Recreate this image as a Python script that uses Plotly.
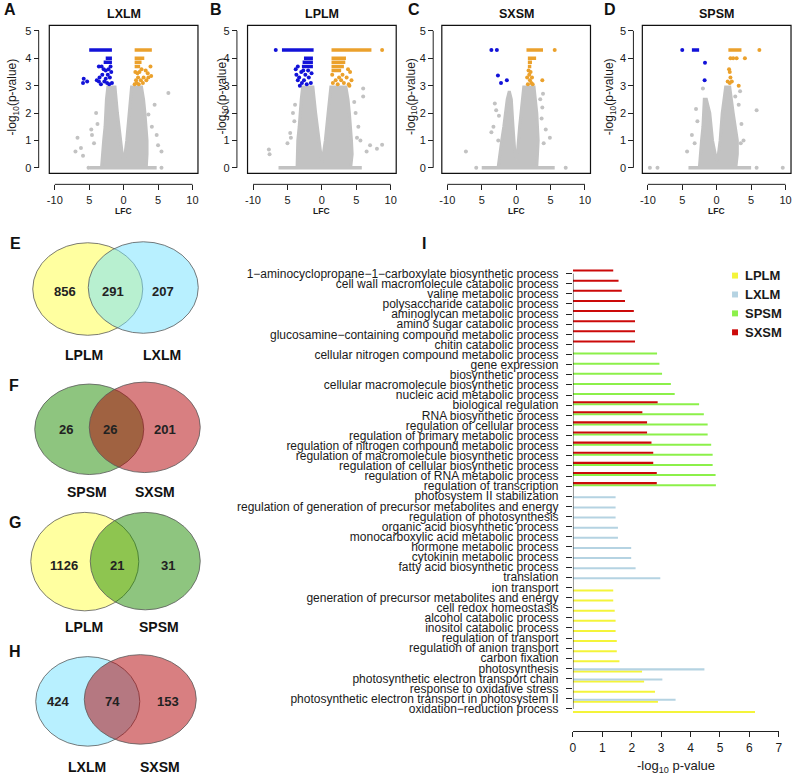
import plotly.graph_objects as go

W, H = 797, 778
def px(x): return x / W
def py(y): return 1 - y / H

N = None
FONT = "Liberation Sans, Arial, sans-serif"

# ---------------- Panel I: GO term enrichment ----------------
terms = [
    "1−aminocyclopropane−1−carboxylate biosynthetic process",
    "cell wall macromolecule catabolic process",
    "valine metabolic process",
    "polysaccharide catabolic process",
    "aminoglycan metabolic process",
    "amino sugar catabolic process",
    "glucosamine−containing compound metabolic process",
    "chitin catabolic process",
    "cellular nitrogen compound metabolic process",
    "gene expression",
    "biosynthetic process",
    "cellular macromolecule biosynthetic process",
    "nucleic acid metabolic process",
    "biological regulation",
    "RNA biosynthetic process",
    "regulation of cellular process",
    "regulation of primary metabolic process",
    "regulation of nitrogen compound metabolic process",
    "regulation of macromolecule biosynthetic process",
    "regulation of cellular biosynthetic process",
    "regulation of RNA metabolic process",
    "regulation of transcription",
    "photosystem II stabilization",
    "regulation of generation of precursor metabolites and energy",
    "regulation of photosynthesis",
    "organic acid biosynthetic process",
    "monocarboxylic acid metabolic process",
    "hormone metabolic process",
    "cytokinin metabolic process",
    "fatty acid biosynthetic process",
    "translation",
    "ion transport",
    "generation of precursor metabolites and energy",
    "cell redox homeostasis",
    "alcohol catabolic process",
    "inositol catabolic process",
    "regulation of transport",
    "regulation of anion transport",
    "carbon fixation",
    "photosynthesis",
    "photosynthetic electron transport chain",
    "response to oxidative stress",
    "photosynthetic electron transport in photosystem II",
    "oxidation−reduction process",
]
lplm_vals = [N] * 31 + [1.37, 1.37, 1.42, 1.45, 1.45, 1.49, 1.49, 1.58, 2.35, 2.42, 2.79, 2.89, 6.19]
lxlm_vals = [N] * 22 + [1.45, 1.45, 1.45, 1.53, 1.53, 1.98, 1.98, 2.13, 2.97] + [N] * 8 + [4.47, 3.04, N, 3.49, N]
spsm_vals = [N] * 8 + [2.86, 2.94, 3.03, 3.33, 3.46, 4.29, 4.45, 4.58, 4.58, 4.70, 4.75, 4.75, 4.85, 4.86] + [N] * 22
sxsm_vals = [1.37, 1.55, 1.66, 1.77, 2.07, 2.11, 2.11, 2.11, N, N, N, N, N,
             2.88, 2.36, 2.52, 2.52, 2.67, 2.73, 2.73, 2.85, 2.85] + [N] * 22
series_names = ["LPLM", "LXLM", "SPSM", "SXSM"]
series_vals = [lplm_vals, lxlm_vals, spsm_vals, sxsm_vals]
series_colors = ["#F4F43A", "#B5D3E2", "#8CF04A", "#CC0A0A"]
x_ticks = [0, 1, 2, 3, 4, 5, 6, 7]

# ---------------- Panels A-D: volcano plots ----------------
# A: LXLM
a_cloud_x = [-3.2, -3.1, -2.9, -2.7, -2.6, -2.5, -2.3, -1.25, -0.9, -0.45, -0.15, 0.0, 0.15, 0.45, 0.85, 1.15, 2.6, 2.9, 3.1, 3.3, 3.4, 3.4, 3.3]
a_cloud_y = [0.05, 0.5, 1.0, 1.5, 2.0, 2.5, 2.95, 2.95, 2.0, 1.0, 0.4, 0.25, 0.4, 1.0, 2.0, 2.95, 2.95, 2.5, 2.0, 1.5, 1.0, 0.5, 0.05]
a_gray_x = [-7.0, -6.7, -6.2, -5.9, -4.7, -4.6, -4.3, -4.0, -3.8, 3.6, 4.1, 5.0, 5.5, 6.5, 4.5, 4.8, 5.5, -5.1]
a_gray_y = [0.6, 1.1, 0.72, 0.44, 1.4, 1.2, 0.9, 2.0, 1.6, 1.95, 1.5, 0.82, 0.6, 2.73, 2.3, 1.2, 0.0, 0.0]
a_band = [-4.9, 4.8]
a_blue_runs = [[4.3, -5.0, -1.7], [4.0, -2.6, -1.7], [3.85, -2.9, -1.7]]
a_blue_x = [-3.6, -3.2, -2.9, -2.6, -3.5, -3.1, -2.3, -2.0, -1.8, -3.6, -3.9, -2.8, -2.4, -2.1, -1.7, -5.8, -5.9, -5.3, -3.3, -2.6, -1.9, -2.2]
a_blue_y = [3.7, 3.7, 3.6, 3.55, 3.3, 3.4, 3.4, 3.3, 3.5, 3.15, 3.2, 3.15, 3.1, 3.05, 3.1, 3.25, 3.1, 3.15, 3.05, 3.25, 3.7, 3.6]
a_orange_runs = [[4.3, 1.6, 4.1], [4.0, 1.6, 3.0], [3.85, 1.6, 2.6], [3.7, 1.6, 2.4]]
a_orange_x = [1.7, 2.0, 2.3, 2.6, 3.2, 3.5, 3.9, 3.6, 1.8, 2.1, 2.5, 2.9, 1.6, 1.9, 2.2, 2.8, 3.3, 4.0]
a_orange_y = [3.5, 3.45, 3.5, 3.6, 3.55, 3.45, 3.7, 3.3, 3.2, 3.3, 3.2, 3.3, 3.05, 3.1, 3.05, 3.1, 3.2, 3.35]

# B: LPLM
b_cloud_x = [-3.6, -3.6, -3.5, -3.3, -3.2, -3.0, -2.8, -1.3, -0.9, -0.45, -0.15, 0.0, 0.15, 0.5, 0.9, 1.3, 3.5, 3.8, 4.0, 4.2, 4.3, 4.4, 4.2]
b_cloud_y = [0.05, 0.5, 1.0, 1.5, 2.0, 2.5, 2.95, 2.95, 2.0, 1.0, 0.4, 0.2, 0.4, 1.0, 2.0, 2.95, 2.95, 2.5, 2.0, 1.5, 1.0, 0.5, 0.05]
b_gray_x = [-7.7, -7.6, -4.6, -4.5, -5.0, -4.2, -3.9, -4.0, 6.0, 6.0, 7.0, 8.75, 8.0, 5.1, 5.3, 4.9, 4.7, 5.6, 6.5]
b_gray_y = [0.67, 0.5, 1.27, 1.1, 0.9, 2.0, 2.3, 1.7, 2.9, 2.6, 0.82, 0.84, 0.7, 1.1, 1.5, 2.0, 2.4, 1.0, 0.6]
b_band = [-6.3, 5.8]
b_blue_runs = [[4.3, -5.8, -1.2], [4.0, -2.6, -1.3], [3.85, -2.8, -1.3], [3.7, -2.9, -1.3]]
b_blue_x = [-6.7, -3.8, -3.5, -3.7, -3.3, -3.0, -2.6, -3.5, -2.9, -2.2, -1.6, -1.9, -2.4, -2.7, -2.0, -1.5, -3.2]
b_blue_y = [4.3, 3.6, 3.7, 3.4, 3.3, 3.5, 3.2, 3.2, 3.1, 3.05, 3.1, 3.3, 3.4, 3.55, 3.55, 3.45, 3.0]
b_orange_runs = [[4.3, 1.4, 7.2], [4.0, 1.4, 3.5], [3.85, 1.4, 3.4], [3.7, 1.4, 3.2], [3.55, 1.4, 2.8]]
b_orange_x = [8.75, 3.8, 4.1, 4.3, 3.6, 3.0, 2.5, 2.0, 1.6, 2.3, 3.2, 3.9, 1.5, 2.8, 4.0]
b_orange_y = [4.3, 3.6, 3.5, 3.2, 3.3, 3.4, 3.3, 3.2, 3.1, 3.05, 3.1, 3.05, 3.4, 3.2, 3.0]

# C: SXSM
c_cloud_x = [-2.6, -2.4, -2.1, -1.8, -1.6, -1.3, -1.0, -0.7, -0.45, -0.2, 0.0, 0.2, 0.5, 0.9, 1.1, 2.6, 2.8, 3.0, 3.1, 3.2, 3.1, 3.0]
c_cloud_y = [0.05, 0.5, 1.0, 1.5, 2.0, 2.5, 2.8, 2.5, 1.5, 0.6, 0.3, 0.6, 1.5, 2.5, 2.95, 2.95, 2.5, 2.0, 1.5, 1.0, 0.5, 0.05]
c_gray_x = [-7.3, -3.6, -3.3, -3.1, -2.9, -2.5, -2.6, 3.7, 4.9, 4.3, 3.5, 3.8, 4.0, -5.8, 7.2, 3.9]
c_gray_y = [0.6, 1.3, 1.5, 2.35, 2.1, 1.9, 1.0, 1.8, 1.1, 1.4, 2.5, 2.2, 0.9, 0.0, 0.0, 2.7]
c_band = [-5.0, 5.6]
c_blue_runs = []
c_blue_x = [-3.6, -2.8, -2.65, -2.2, -1.35]
c_blue_y = [4.3, 4.3, 3.37, 3.1, 3.2]
c_orange_runs = [[4.3, 1.5, 3.9], [4.0, 1.7, 2.9], [3.85, 1.7, 2.3], [3.7, 1.7, 2.2]]
c_orange_x = [5.6, 1.8, 2.1, 1.6, 2.0, 2.3, 1.7, 2.2, 1.9, 3.8, 2.4]
c_orange_y = [4.3, 3.55, 3.5, 3.3, 3.2, 3.3, 3.05, 3.1, 3.4, 3.2, 3.05]

# D: SPSM
d_cloud_x = [-2.5, -2.4, -2.2, -2.0, -1.9, -1.8, -1.5, -1.0, -0.6, -0.2, 0.0, 0.2, 0.5, 0.8, 1.1, 1.3, 1.9, 2.1, 2.4, 2.7, 3.0, 3.0, 2.8]
d_cloud_y = [0.05, 0.5, 1.0, 1.5, 2.0, 2.5, 2.5, 2.0, 1.0, 0.4, 0.25, 0.4, 1.0, 2.0, 2.5, 2.95, 2.95, 2.5, 2.0, 1.5, 1.0, 0.5, 0.05]
d_gray_x = [-9.7, -8.6, 9.6, 5.8, -4.3, -3.6, -3.0, -2.8, -2.0, 5.8, 3.4, 3.6, 3.2, 2.7, 3.9, 3.5, -3.2]
d_gray_y = [0.0, 0.0, 0.0, 0.0, 0.6, 1.2, 2.15, 1.7, 2.9, 2.1, 2.8, 1.6, 2.3, 2.6, 1.0, 0.9, 0.9]
d_band = [-4.1, 5.0]
d_blue_runs = [[4.3, -3.6, -2.55]]
d_blue_x = [-5.0, -1.7, -1.75]
d_blue_y = [4.3, 3.84, 3.2]
d_orange_runs = [[4.3, 1.7, 3.6]]
d_orange_x = [6.2, 2.0, 2.4, 2.9, 4.1, 1.8, 1.9, 2.0, 1.6, 1.9, 2.2, 3.2]
d_orange_y = [4.3, 4.0, 4.0, 4.0, 4.0, 3.6, 3.5, 3.3, 3.15, 3.1, 3.15, 3.0]

vol_titles = ["LXLM", "LPLM", "SXSM", "SPSM"]
vol_letters = ["A", "B", "C", "D"]
vol_xticks = [-10, -5, 0, 5, 10]
vol_xticktext = ["-10", "5", "0", "5", "10"]
vol_yticks = [0, 1, 2, 3, 4, 5]

# ---------------- Panels E-H: Venn counts ----------------
venn_letters = ["E", "F", "G", "H"]
venn_sets = [["LPLM", "LXLM"], ["SPSM", "SXSM"], ["LPLM", "SPSM"], ["LXLM", "SXSM"]]
venn_counts = [[856, 291, 207], [26, 26, 201], [1126, 21, 31], [424, 74, 153]]

GRAY = "#C2C2C2"
BLUE = "#1212D8"
ORANGE = "#EBA12C"
set_fill = {
    "LPLM": "rgba(255,255,65,0.5)",
    "LXLM": "rgba(113,225,255,0.5)",
    "SPSM": "rgba(30,140,0,0.5)",
    "SXSM": "rgba(178,0,4,0.5)",
}

fig = go.Figure()
shapes = []
ann = []

def text(x, y, s, size, bold=False, color="#1a1a1a", angle=0, xanchor="center"):
    ann.append(dict(x=px(x), y=py(y), xref="paper", yref="paper", text=(f"<b>{s}</b>" if bold else s),
                    showarrow=False, xanchor=xanchor, yanchor="middle", textangle=angle,
                    font=dict(family=FONT, size=size, color=color)))

# ---- bar chart ----
for name, vals, col in zip(series_names, series_vals, series_colors):
    fig.add_trace(go.Bar(y=terms, x=vals, orientation="h", name=name, marker=dict(color=col, line=dict(width=0)),
                         xaxis="x", yaxis="y", showlegend=False))

bar_top, bar_bot = 267.9, 715.6
fig.update_layout(
    xaxis=dict(domain=[px(575), px(782.7)], range=[0, 7], anchor="free", position=py(733),
               tickvals=x_ticks, ticks="outside", ticklen=5, tickcolor="#222", showline=True,
               linecolor="#222", linewidth=1, showgrid=False, zeroline=False,
               tickfont=dict(family=FONT, size=12, color="#1a1a1a")),
    yaxis=dict(domain=[py(bar_bot), py(bar_top)], type="category", categoryorder="array",
               categoryarray=list(reversed(terms)), range=[-0.5, len(terms) - 0.5],
               tickmode="array", tickvals=terms, ticktext=terms,
               ticks="outside", ticklen=6, tickcolor="#222", showline=False, showgrid=False,
               zeroline=False, anchor="x", ticklabelstandoff=5,
               tickfont=dict(family=FONT, size=12, color="#1a1a1a")),
)
shapes.append(dict(type="line", xref="x", yref="y", x0=0, x1=0, y0=terms[0], y1=terms[-1],
                   line=dict(color="#222", width=1)))
# manual legend
for i, (name, col) in enumerate(zip(series_names, series_colors)):
    yy = 275 + 19 * i
    shapes.append(dict(type="rect", xref="paper", yref="paper", x0=px(735.5), x1=px(741.5),
                       y0=py(yy + 3), y1=py(yy - 3), fillcolor=col, line=dict(width=0)))
    text(747, yy, name, 13, bold=True, xanchor="left")
text(425, 243, "I", 16, bold=True, color="#111")
text(678.8, 768, "-log<sub>10</sub> p-value", 13)
fig.update_layout(bargap=0.2, bargroupgap=0, barmode="group")

# ---- volcano plots ----
vol_data = [
    (a_cloud_x, a_cloud_y, a_gray_x, a_gray_y, a_band, a_blue_runs, a_blue_x, a_blue_y, a_orange_runs, a_orange_x, a_orange_y),
    (b_cloud_x, b_cloud_y, b_gray_x, b_gray_y, b_band, b_blue_runs, b_blue_x, b_blue_y, b_orange_runs, b_orange_x, b_orange_y),
    (c_cloud_x, c_cloud_y, c_gray_x, c_gray_y, c_band, c_blue_runs, c_blue_x, c_blue_y, c_orange_runs, c_orange_x, c_orange_y),
    (d_cloud_x, d_cloud_y, d_gray_x, d_gray_y, d_band, d_blue_runs, d_blue_x, d_blue_y, d_orange_runs, d_orange_x, d_orange_y),
]
vol_zero_px = [121.7, 321.7, 517.7, 720.0]
vol_axis_px = [36.0, 236.0, 434.0, 636.0]
vol_ytitle_px = [10.0, 221.0, 412.0, 612.0]
vol_letter_px = [7.0, 215.0, 415.0, 612.0]
box_top, box_bot = 23.5, 172.2

def runs_to_xy(runs):
    xs, ys = [], []
    for r in runs:
        xs += [r[1], r[2], None]
        ys += [r[0], r[0], None]
    return xs, ys

for k, (cx, cy, gx, gy, band, bruns, bx, by, oruns, ox, oy) in enumerate(vol_data):
    xa, ya = f"x{k + 2}", f"y{k + 2}"
    c = vol_zero_px[k]
    fig.add_trace(go.Scatter(x=cx, y=cy, mode="lines", fill="toself", fillcolor=GRAY,
                             line=dict(color=GRAY, width=3), xaxis=xa, yaxis=ya, showlegend=False, hoverinfo="skip"))
    fig.add_trace(go.Scatter(x=band, y=[0, 0], mode="lines", line=dict(color=GRAY, width=3.5),
                             xaxis=xa, yaxis=ya, showlegend=False))
    fig.add_trace(go.Scatter(x=gx, y=gy, mode="markers", marker=dict(color=GRAY, size=4),
                             xaxis=xa, yaxis=ya, showlegend=False))
    for runs, xs, ys, col in [(bruns, bx, by, BLUE), (oruns, ox, oy, ORANGE)]:
        rx, ry = runs_to_xy(runs)
        if rx:
            fig.add_trace(go.Scatter(x=rx, y=ry, mode="lines", line=dict(color=col, width=3.5),
                                     xaxis=xa, yaxis=ya, showlegend=False))
        fig.add_trace(go.Scatter(x=xs, y=ys, mode="markers", marker=dict(color=col, size=4),
                                 xaxis=xa, yaxis=ya, showlegend=False))
    xaxis_pos = py(183.3)
    fig.update_layout(**{
        f"xaxis{k + 2}": dict(domain=[px(c - 75), px(c + 75)], range=[-10.8, 10.8], anchor="free",
                              position=xaxis_pos, tickvals=vol_xticks, ticktext=vol_xticktext,
                              ticks="outside", ticklen=5, tickcolor="#222", showline=False,
                              showgrid=False, zeroline=False,
                              tickfont=dict(family=FONT, size=11, color="#1a1a1a")),
        f"yaxis{k + 2}": dict(domain=[py(box_bot), py(box_top)], range=[-0.2, 5.2], anchor="free",
                              position=px(vol_axis_px[k]), tickvals=vol_yticks, ticks="outside",
                              ticklen=5, tickcolor="#222", showline=False, showgrid=False,
                              zeroline=False, tickfont=dict(family=FONT, size=11, color="#1a1a1a")),
    })
    shapes.append(dict(type="rect", xref=f"{xa} domain", yref=f"{ya} domain", x0=0, x1=1, y0=0, y1=1,
                       line=dict(color="#111", width=1.2), fillcolor="rgba(0,0,0,0)"))
    shapes.append(dict(type="line", xref=xa, yref="paper", x0=-10, x1=10, y0=xaxis_pos, y1=xaxis_pos,
                       line=dict(color="#222", width=1)))
    shapes.append(dict(type="line", xref="paper", yref=ya, x0=px(vol_axis_px[k]), x1=px(vol_axis_px[k]),
                       y0=0, y1=5, line=dict(color="#222", width=1)))
    text(c, 12.5, vol_titles[k], 12.5, bold=True, color="#111")
    text(vol_letter_px[k], 8, vol_letters[k], 16, bold=True, color="#111")
    text(vol_ytitle_px[k], 95, "-log<sub>10</sub>(p-value)", 12, angle=-90)
    text(c, 210, "LFC", 8.5, bold=True)

# ---- Venn diagrams ----
venn_geom = [
    dict(l=(30, 141, 242, 335), r=(86, 197, 241, 333), ny=290.7, nx=(63, 111, 161), ly=355, lx=(82, 160), let=(5, 243)),
    dict(l=(32, 142, 384, 475), r=(87, 199, 382, 473), ny=429.5, nx=(64, 108, 163), ly=493, lx=(85, 153), let=(4, 385)),
    dict(l=(28, 137, 513, 612), r=(88, 199, 513, 611), ny=566, nx=(62, 115, 166), ly=628, lx=(82, 157), let=(4, 523)),
    dict(l=(33, 138, 658, 748), r=(82, 195, 656, 746), ny=703.3, nx=(55, 110, 166), ly=769, lx=(85, 158), let=(4, 653)),
]
for g, sets, counts, letter in zip(venn_geom, venn_sets, venn_counts, venn_letters):
    for side, sname in zip(("l", "r"), sets):
        x0, x1, y0, y1 = g[side]
        shapes.append(dict(type="circle", xref="paper", yref="paper", x0=px(x0), x1=px(x1), y0=py(y1), y1=py(y0),
                           fillcolor=set_fill[sname], line=dict(color="#5a5a5a", width=0.8), layer="below"))
    for xx, cnt in zip(g["nx"], counts):
        text(xx, g["ny"], str(cnt), 13, bold=True, color="#222")
    for xx, sname in zip(g["lx"], sets):
        text(xx, g["ly"], sname, 14, bold=True, color="#111")
    text(g["let"][0], g["let"][1], letter, 16, bold=True, color="#111", xanchor="left")

fig.update_layout(width=W, height=H, autosize=False, margin=dict(l=0, r=0, t=0, b=0),
                  paper_bgcolor="white", plot_bgcolor="rgba(0,0,0,0)", shapes=shapes, annotations=ann,
                  showlegend=False, font=dict(family=FONT))
fig.write_html("out.html", config={"displayModeBar": False},
               post_script="document.body.style.margin='0px';document.body.style.padding='0px';")
